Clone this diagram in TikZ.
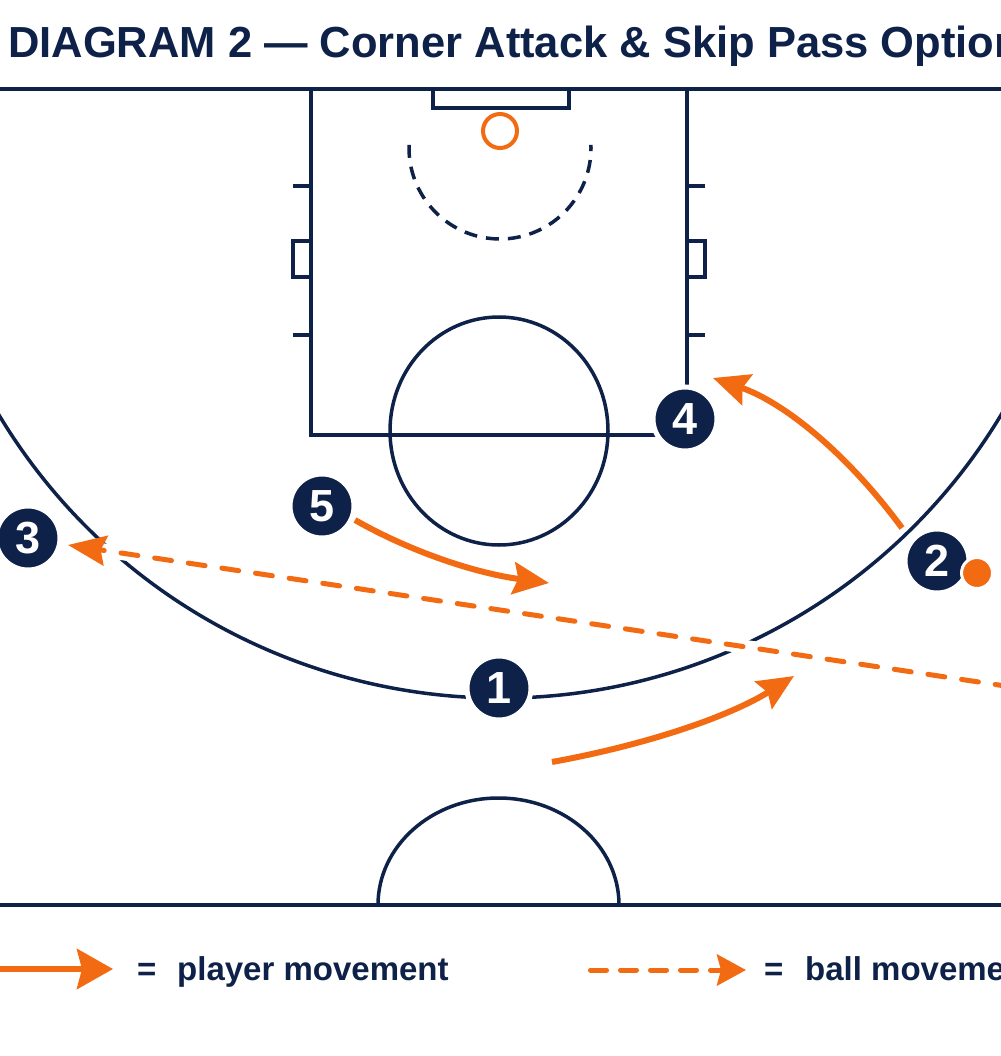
\documentclass[tikz,border=0pt]{standalone}
\usepackage{fontspec}
\setmainfont{Liberation Sans}
\usetikzlibrary{arrows.meta}
\definecolor{navy}{HTML}{0E2148}
\definecolor{orng}{HTML}{F26A12}
\tikzset{
 court/.style={draw=navy, line width=3.5pt},
 edgeline/.style={draw=navy, line width=4pt},
 player/.style={circle, fill=navy, draw=white, line width=5pt, minimum size=64pt, inner sep=0pt, text=white, font=\fontsize{45}{45}\selectfont\bfseries},
 ballnode/.style={circle, fill=orng, draw=white, line width=3pt, minimum size=31pt, inner sep=0pt},
 move/.style={draw=orng, line width=6pt, -{Stealth[length=36pt,width=32pt,inset=5pt]}},
 pass/.style={draw=orng, line width=5pt, dash pattern=on 17pt off 17pt, line cap=round, -{Stealth[length=38pt,width=30pt,inset=5pt]}},
 halo/.style={draw=white, line width=14pt},
 legtext/.style={anchor=base west, text=navy, inner sep=0pt, font=\fontsize{33}{36}\selectfont\bfseries},
}
\begin{document}
\begin{tikzpicture}[x=1pt,y=-1pt]
\useasboundingbox (0,0) rectangle (1000,1056);
\fill[white] (0,0) rectangle (1000,1056);
% title
\node[anchor=base west, text=navy, inner sep=0pt, font=\fontsize{43.5}{50}\selectfont\bfseries] (title) at (8,58) {DIAGRAM 2 — Corner Attack \& Skip Pass Option};
% court
\draw[edgeline] (-5,89) -- (1005,89);
\draw[edgeline] (-5,905) -- (1005,905);
\draw[court] (311,89) -- (311,435) -- (687,435) -- (687,89);
\draw[court] (433,89) rectangle (569,108);
\draw[court] (293,186) -- (311,186) (293,335) -- (311,335) (293,241) rectangle (311,277);
\draw[court] (705,186) -- (687,186) (705,335) -- (687,335) (705,241) rectangle (687,277);
\draw[orng, line width=4pt] (500,131) circle [radius=17];
\draw[court, dash pattern=on 13pt off 9pt] (500,148) ++(182:91) arc[start angle=182, end angle=-2, radius=91];
\draw[court] (499,431) ellipse [x radius=109, y radius=114];
\draw[court] (500,113) ++(150:585) arc[start angle=150, end angle=30, radius=585];
\draw[court] (378,905) arc[start angle=180, end angle=360, x radius=120.5, y radius=107];
% coordinates
\coordinate (pA) at (1012,687);
\coordinate (pB) at (68,545);
\coordinate (m2a) at (902,528);
\coordinate (m2b) at (713,378);
\coordinate (m5a) at (355,520);
\coordinate (m5b) at (549,583);
\coordinate (m1a) at (552,762);
\coordinate (m1b) at (794,676);
% pass
\draw[halo] (pA) -- (pB);
\draw[pass] (pA) -- (pB);
% moves
\draw[move] (m2a) .. controls (846,452) and (783,402) .. (m2b);
\draw[move] (m5a) .. controls (411.7,552.3) and (476.3,573.3) .. (m5b);
\draw[move] (m1a) .. controls (650.7,744) and (731.3,715.3) .. (m1b);
% players
\node[player] (p1) at (499,688) {1};
\node[player] (p2) at (937,561) {2};
\node[player] (p3) at (28,538) {3};
\node[player] (p4) at (685,419) {4};
\node[player] (p5) at (322,506) {5};
\node[ballnode] (ball) at (977,573) {};
% legend
\coordinate (l1a) at (-10,969);
\coordinate (l1b) at (113,969);
\draw[draw=orng, line width=6pt, -{Stealth[length=36pt,width=40pt,inset=5pt]}] (l1a) -- (l1b);
\node[legtext] (l1eq) at (137,980) {=};
\node[legtext] (l1t) at (177,980) {player movement};
\coordinate (l2a) at (590.5,970);
\coordinate (l2b) at (746,970);
\draw[draw=orng, line width=5pt, dash pattern=on 16pt off 14pt, line cap=round, -{Stealth[length=29pt,width=31pt,inset=4pt]}] (l2a) -- (l2b);
\node[legtext] (l2eq) at (764,980) {=};
\node[legtext] (l2t) at (805,980) {ball movement};
\end{tikzpicture}
\end{document}
